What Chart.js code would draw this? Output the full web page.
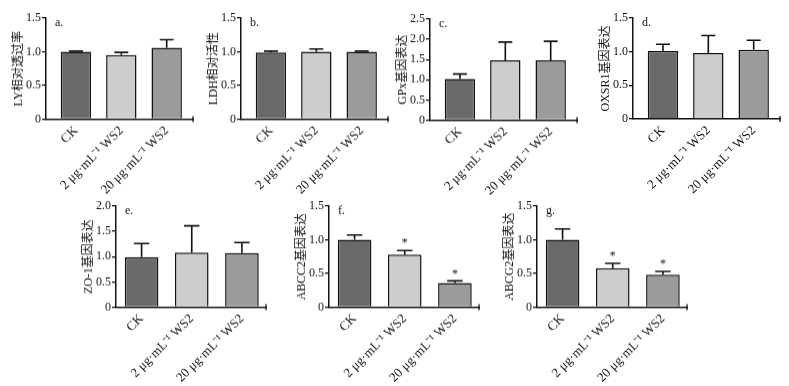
<!DOCTYPE html>
<html>
<head>
<meta charset="utf-8">
<script src="https://cdn.jsdelivr.net/npm/chart.js@4"></script>
<style>
  body{margin:0;background:#fff;width:789px;height:386px;position:relative;overflow:hidden;}
  .panel{position:absolute;}
</style>
</head>
<body>
<script>
// groups on the x axis
const groups = ["CK", "2 μg·mL⁻¹ WS2", "20 μg·mL⁻¹ WS2"];
const barColors = ["#6a6a6a", "#cdcdcd", "#9b9b9b"];

// one entry per panel: title, letter, y max, means, upper error, significance
const panelTitles = ["LY相对透过率", "LDH相对活性", "GPx基因表达", "OXSR1基因表达", "ZO-1基因表达", "ABCC2基因表达", "ABCG2基因表达"];
const panelLetters = ["a.", "b.", "c.", "d.", "e.", "f.", "g."];
const yMax = [1.5, 1.5, 2.5, 1.5, 2.0, 1.5, 1.5];

const meanA = [1.00, 0.95, 1.06];
const errA  = [1.01, 0.99, 1.18];
const meanB = [0.99, 1.00, 1.00];
const errB  = [1.01, 1.04, 1.01];
const meanC = [1.02, 1.48, 1.48];
const errC  = [1.14, 1.93, 1.95];
const meanD = [1.01, 0.98, 1.03];
const errD  = [1.11, 1.24, 1.17];
const meanE = [0.99, 1.08, 1.07];
const errE  = [1.26, 1.61, 1.28];
const meanF = [1.00, 0.78, 0.36];
const errF  = [1.07, 0.84, 0.39];
const meanG = [1.00, 0.58, 0.48];
const errG  = [1.16, 0.65, 0.53];
const sigF  = [false, true, true];
const sigG  = [false, true, true];
const noSig = [false, false, false];

const means = [meanA, meanB, meanC, meanD, meanE, meanF, meanG];
const errs  = [errA, errB, errC, errD, errE, errF, errG];
const sigs  = [noSig, noSig, noSig, noSig, noSig, sigF, sigG];

// panel placement (axis corner in page px)
const axisX = [46, 241, 430, 633, 116, 329, 537];
const plotTop = [18, 18, 19, 18, 206, 206, 206];
const plotBottom = [118.5, 118.5, 119.5, 119, 306.5, 306.5, 306.5];
const topRow = {min: -0.66, max: 2.58, width: 147};
const botRow = {min: -0.51, max: 2.48, width: 150};

const Y_W = 46, PAD_TOP = 10, X_H = 76;
const serif = "'Liberation Serif', 'Times New Roman', 'Noto Sans CJK SC', serif";

const errorBars = {
  id: "errorBars",
  afterDatasetsDraw(chart, args, opts) {
    const ctx = chart.ctx;
    const y = chart.scales.y;
    const meta = chart.getDatasetMeta(0);
    ctx.save();
    ctx.strokeStyle = "#111";
    ctx.lineWidth = 1.6;
    meta.data.forEach((bar, i) => {
      const top = y.getPixelForValue(opts.err[i]);
      const half = bar.width * 0.23;
      ctx.beginPath();
      ctx.moveTo(bar.x, bar.y);
      ctx.lineTo(bar.x, top);
      ctx.moveTo(bar.x - half, top);
      ctx.lineTo(bar.x + half, top);
      ctx.stroke();
      if (opts.sig[i]) {
        ctx.fillStyle = "#111";
        ctx.font = "12px " + serif;
        ctx.textAlign = "center";
        ctx.textBaseline = "bottom";
        ctx.fillText("*", bar.x, top - 1);
      }
    });
    const a = chart.chartArea;
    // small end tick on the x axis
    ctx.lineWidth = 1.3;
    ctx.beginPath();
    ctx.moveTo(a.right, a.bottom - 3);
    ctx.lineTo(a.right, a.bottom + 3);
    ctx.stroke();
    // panel letter
    ctx.fillStyle = "#111";
    ctx.font = "12px " + serif;
    ctx.textAlign = "left";
    ctx.textBaseline = "middle";
    ctx.fillText(opts.letter, a.left + 9, a.top + 5);
    ctx.restore();
  }
};

for (let p = 0; p < 7; p++) {
  const row = p < 4 ? topRow : botRow;
  const plotH = plotBottom[p] - plotTop[p];
  const div = document.createElement("div");
  div.className = "panel";
  const w = Y_W + row.width + 6;
  const h = PAD_TOP + plotH + X_H;
  div.style.left = (axisX[p] - Y_W) + "px";
  div.style.top = (plotTop[p] - PAD_TOP) + "px";
  div.style.width = w + "px";
  div.style.height = h + "px";
  const cv = document.createElement("canvas");
  div.appendChild(cv);
  document.body.appendChild(div);

  new Chart(cv.getContext("2d"), {
    type: "bar",
    data: {
      datasets: [{
        data: means[p].map((v, i) => ({x: i, y: v})),
        backgroundColor: barColors,
        borderColor: "#111",
        borderWidth: 1.5,
        borderSkipped: "bottom",
        barPercentage: 1,
        categoryPercentage: 0.67
      }]
    },
    options: {
      responsive: true,
      maintainAspectRatio: false,
      animation: false,
      layout: {padding: {top: PAD_TOP, right: 6, left: 0, bottom: 0}},
      plugins: {
        legend: {display: false},
        tooltip: {enabled: false},
        errorBars: {err: errs[p], sig: sigs[p], letter: panelLetters[p]}
      },
      scales: {
        x: {
          type: "linear",
          offset: false,
          min: row.min,
          max: row.max,
          grid: {display: false, offset: false},
          border: {display: true, color: "#111", width: 1.5},
          ticks: {
            stepSize: 1,
            autoSkip: false,
            includeBounds: false,
            minRotation: 45,
            maxRotation: 45,
            padding: -4,
            color: "#111",
            font: {family: serif, size: 13},
            callback: (v) => groups[v] !== undefined && Number.isInteger(v) ? groups[v] : ""
          },
          afterFit: (s) => { s.height = X_H; }
        },
        y: {
          min: 0,
          max: yMax[p],
          grid: {display: true, drawOnChartArea: false, color: "#111", tickLength: 4, lineWidth: 1.3},
          border: {display: true, color: "#111", width: 1.5},
          ticks: {
            stepSize: 0.5,
            padding: 1,
            color: "#111",
            font: {family: serif, size: 12},
            callback: (v) => v === 0 ? "0" : v.toFixed(1)
          },
          title: {
            display: true,
            text: panelTitles[p],
            color: "#111",
            font: {family: serif, size: 12},
            padding: {top: 12, bottom: 0}
          },
          afterFit: (s) => { s.width = Y_W; }
        }
      }
    },
    plugins: [errorBars]
  });
}
</script>
</body>
</html>
